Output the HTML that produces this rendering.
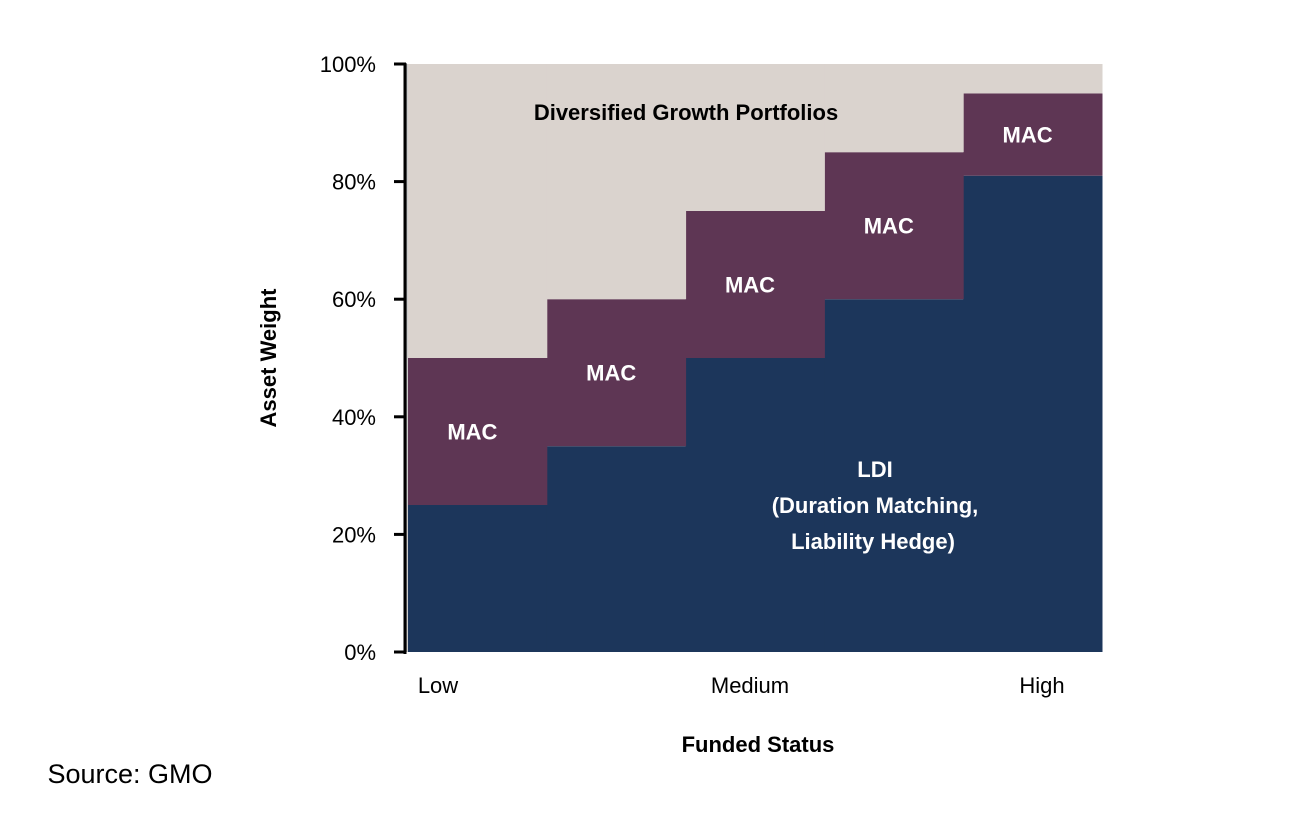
<!DOCTYPE html>
<html><head><meta charset="utf-8"><style>
body{margin:0;background:#fff;width:1300px;height:822px;overflow:hidden;font-family:"Liberation Sans",sans-serif}
</style></head><body>
<svg id="chart" width="1300" height="822" xmlns="http://www.w3.org/2000/svg" font-family="Liberation Sans, sans-serif">
<g id="bars"></g>
<g id="axis"></g>
<g id="labels"></g>
</svg>
<script>
const categories=['Low','','Medium','','High'];
const ldi=[25,35,50,60,81];
const mac=[25,25,25,25,14];
const dgp=[50,40,25,15,5];
const yTicks=[0,20,40,60,80,100];
const tickLabels=['0%','20%','40%','60%','80%','100%'];
const X0=408,X1=1102,Y0=652,Y100=64;
const y=v=>Y0-(Y0-Y100)*v/100;
const bw=(X1-X0)/categories.length;
const x=i=>X0+i*bw;
const NS='http://www.w3.org/2000/svg';
function mk(tag,attrs,parent,text){const e=document.createElementNS(NS,tag);for(const k in attrs)e.setAttribute(k,attrs[k]);if(text!==undefined)e.textContent=text;parent.appendChild(e);return e;}
const bars=document.getElementById('bars');
const cols=['#1c365b','#5e3654','#dad3ce'];
const names=['ldi','mac','growth'];
[ldi,mac,dgp].forEach((s,si)=>{
  s.forEach((v,i)=>{
    let base=0;for(let k=0;k<si;k++)base+=[ldi,mac,dgp][k][i];
    const r=mk('rect',{x:x(i),y:y(base+v),width:bw+0.5,height:y(base)-y(base+v),fill:cols[si]},bars);
    
    
    if(si===1){
      const t=mk('text',{x:x(i)+bw/2-5,y:(y(base)+y(base+v))/2+8,'text-anchor':'middle','font-size':22,'font-weight':'bold',fill:'#fff'},document.getElementById('labels'),'MAC');
      
      
    }
  });
});
const ax=document.getElementById('axis');
mk('line',{x1:407,y1:Y100,x2:407,y2:Y0,stroke:'#999',"stroke-width":1},ax);
mk('line',{x1:405,y1:Y100-1,x2:405,y2:Y0+2,stroke:'#000',"stroke-width":3},ax);
yTicks.forEach((v,i)=>{
  mk('line',{x1:394,y1:y(v),x2:406,y2:y(v),stroke:'#000','stroke-width':3},ax);
  const t=mk('text',{x:376,y:y(v)+8,'text-anchor':'end','font-size':22,fill:'#000'},ax,tickLabels[i]);
  
  
});
const lab=document.getElementById('labels');
const xl=[[438,'Low'],[750,'Medium'],[1042,'High']];
xl.forEach(([px,s])=>{const t=mk('text',{x:px,y:693,'text-anchor':'middle','font-size':22,fill:'#000'},lab,s);

});
function txt(px,py,s,size,bold,fill,name,extra){const t=mk('text',Object.assign({x:px,y:py,'text-anchor':'middle','font-size':size,'font-weight':bold?'bold':'normal',fill:fill},extra||{}),lab,s);return t;}
txt(686,120,'Diversified Growth Portfolios',22,true,'#000','growth-label');
txt(875,477,'LDI',22,true,'#fff','ldi-label');
txt(875,513,'(Duration Matching,',22,true,'#fff','ldi-label-2');
txt(873,549,'Liability Hedge)',22,true,'#fff','ldi-label-3');
txt(758,752,'Funded Status',22,true,'#000','x-axis-title');
txt(0,0,'Asset Weight',22,true,'#000','y-axis-title',{transform:'translate(276,358) rotate(-90)'});
txt(130,783,'Source: GMO',27,false,'#000','source-note');
</script>
</body></html>
